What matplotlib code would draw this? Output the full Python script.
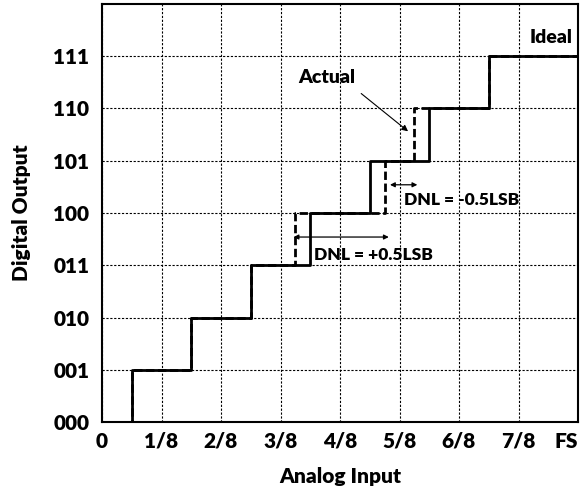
import matplotlib.pyplot as plt
import numpy as np

# ── data ─────────────────────────────────────────
code_labels = ['000', '001', '010', '011', '100', '101', '110', '111']
x_labels = ['0', '1/8', '2/8', '3/8', '4/8', '5/8', '6/8', '7/8', 'FS']
ideal_trans = [0.5, 1.5, 2.5, 3.5, 4.5, 5.5, 6.5]      # in LSB
actual_trans = [0.5, 1.5, 2.5, 3.25, 4.75, 5.25, 6.5]  # in LSB
full_scale = 8

plt.rcParams['font.family'] = ['Lato', 'DejaVu Sans']
W = 'heavy'

fig = plt.figure(figsize=(5.81, 4.86), dpi=100)
ax = fig.add_axes([102 / 581, 64 / 486, 476 / 581, 418 / 486])

codes = np.arange(len(code_labels))
xi = [0] + ideal_trans + [full_scale]
xa = [0] + actual_trans + [full_scale]
yi = list(codes) + [codes[-1]]

ax.step(xa, yi, where='post', color='black', lw=2,
        linestyle=(0, (3, 1.3)), zorder=3)
ax.step(xi, yi, where='post', color='black', lw=2, zorder=4)

ax.set_xlim(0, full_scale)
ax.set_ylim(0, full_scale)
ax.set_xticks(np.arange(len(x_labels)))
ax.set_xticklabels(x_labels, fontsize=15, fontweight=W)
ax.get_xticklabels()[-1].set_horizontalalignment('right')
ax.set_yticks(codes)
ax.set_yticklabels(code_labels, fontsize=15, fontweight=W)
ax.tick_params(length=0)
ax.tick_params(axis='x', pad=7)
ax.tick_params(axis='y', pad=9)
ax.grid(True, linestyle=(0, (2, 1.5)), color='black', lw=0.8, zorder=0)
for s in ax.spines.values():
    s.set_linewidth(1.5)
    s.set_zorder(5)

ax.set_xlabel('Analog Input', fontsize=15, fontweight=W, labelpad=12)
ax.set_ylabel('Digital Output', fontsize=15, fontweight=W, labelpad=16)

# annotations
ax.text(7.9, 7.35, 'Ideal', fontsize=14, fontweight=W, ha='right', va='center')
ax.text(3.3, 6.6, 'Actual', fontsize=14, fontweight=W, ha='left', va='center')
ax.annotate('', xy=(5.18, 5.53), xytext=(4.32, 6.32),
            arrowprops=dict(arrowstyle='-|>', color='black', lw=0.8,
                            mutation_scale=9))
ax.annotate('', xy=(4.84, 4.54), xytext=(5.3, 4.54),
            arrowprops=dict(arrowstyle='<|-|>', color='black', lw=0.9,
                            mutation_scale=7, shrinkA=0, shrinkB=0))
ax.text(5.07, 4.25, 'DNL = -0.5LSB', fontsize=12.5, fontweight=W,
        ha='left', va='center')
ax.annotate('', xy=(3.22, 3.54), xytext=(4.82, 3.54),
            arrowprops=dict(arrowstyle='<|-|>', color='black', lw=0.9,
                            mutation_scale=7, shrinkA=0, shrinkB=0))
ax.text(3.57, 3.2, 'DNL = +0.5LSB', fontsize=12.5, fontweight=W,
        ha='left', va='center')

fig.savefig('out.png', dpi=100)
